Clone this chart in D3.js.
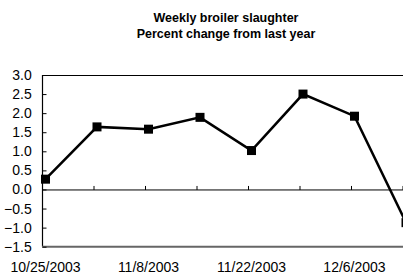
<!DOCTYPE html>
<html>
<head>
<meta charset="utf-8">
<script src="https://cdn.jsdelivr.net/npm/d3@7"></script>
<style>
  body { margin: 0; background: #fff; }
  text { font-family: "Liberation Sans", Arial, sans-serif; fill: #000; }
</style>
</head>
<body>
<svg id="chart" width="403" height="274"></svg>
<script>
// weekly dates and percent change
var weeks = ["10/25/2003", "11/1/2003", "11/8/2003", "11/15/2003", "11/22/2003", "11/29/2003", "12/6/2003", "12/13/2003"];
var pctChange = [0.27, 1.64, 1.58, 1.89, 1.02, 2.50, 1.92, -0.87];
var yTicks = [-1.5, -1.0, -0.5, 0.0, 0.5, 1.0, 1.5, 2.0, 2.5, 3.0];
var titleLines = ["Weekly broiler slaughter", "Percent change from last year"];

var svg = d3.select("#chart");

var plotLeft = 42, plotTop = 75, plotBottom = 246.7, step = 51.5, plotRight = 460;

// x by week index; points sit a little right of the tick marks
var xScale = d3.scaleLinear()
    .domain([0, 8])
    .range([plotLeft, plotLeft + 8 * step]);
var ptOffset = 0.068;

var yScale = d3.scaleLinear()
    .domain([-1.5, 3.0])
    .range([plotBottom, plotTop]);

// title
svg.selectAll("text.title")
    .data(titleLines)
    .enter().append("text")
    .attr("class", "title")
    .attr("x", 226)
    .attr("y", (d, i) => 22 + i * 16)
    .attr("text-anchor", "middle")
    .style("font-size", "12.5px")
    .style("font-weight", "bold")
    .text(d => d);

// plot frame: top and left black, bottom grey
svg.append("line")
    .attr("x1", plotLeft).attr("x2", plotRight)
    .attr("y1", plotTop + 0.5).attr("y2", plotTop + 0.5)
    .attr("stroke", "#000").attr("stroke-width", 1.2);
svg.append("line")
    .attr("x1", plotLeft + 0.5).attr("x2", plotLeft + 0.5)
    .attr("y1", plotTop).attr("y2", plotBottom)
    .attr("stroke", "#000").attr("stroke-width", 1.2);
svg.append("line")
    .attr("x1", plotLeft).attr("x2", plotRight)
    .attr("y1", plotBottom).attr("y2", plotBottom)
    .attr("stroke", "#666").attr("stroke-width", 2);

// y axis
var yAxis = d3.axisLeft(yScale)
    .tickValues(yTicks)
    .tickFormat(d3.format(".1f"))
    .tickSize(-4)
    .tickPadding(14);
var yg = svg.append("g")
    .attr("transform", "translate(" + (plotLeft + 0.5) + ",0)")
    .call(yAxis);
yg.select(".domain").remove();
yg.selectAll(".tick line").attr("stroke", "#000");
yg.selectAll(".tick text")
    .style("font-size", "14px")
    .attr("x", -10.8);

// zero line with ticks pointing up
var xAxis = d3.axisTop(xScale)
    .tickValues(d3.range(0, 8))
    .tickSize(4)
    .tickFormat("");
var xg = svg.append("g")
    .attr("transform", "translate(0," + (yScale(0) + 0.5) + ")")
    .call(xAxis);
xg.select(".domain").remove();
xg.selectAll(".tick line").attr("stroke", "#000");
svg.append("line")
    .attr("x1", plotLeft).attr("x2", plotRight)
    .attr("y1", yScale(0) + 0.5).attr("y2", yScale(0) + 0.5)
    .attr("stroke", "#000").attr("stroke-width", 1);

// category labels every other week
svg.selectAll("text.xlab")
    .data(weeks.filter((d, i) => i % 2 === 0))
    .enter().append("text")
    .attr("class", "xlab")
    .attr("x", (d, i) => xScale(i * 2 + ptOffset))
    .attr("y", 271.5)
    .attr("text-anchor", "middle")
    .style("font-size", "14px")
    .text(d => d);

// series line and markers
var line = d3.line()
    .x((d, i) => xScale(i + ptOffset))
    .y(d => yScale(d));

svg.append("path")
    .datum(pctChange)
    .attr("d", line)
    .attr("fill", "none")
    .attr("stroke", "#000")
    .attr("stroke-width", 2.5)
    .attr("stroke-linejoin", "miter");

svg.selectAll("rect.mark")
    .data(pctChange)
    .enter().append("rect")
    .attr("class", "mark")
    .attr("x", (d, i) => xScale(i + ptOffset) - 4.5)
    .attr("y", d => yScale(d) - 4.5)
    .attr("width", 9)
    .attr("height", 9)
    .attr("fill", "#000");
</script>
</body>
</html>
